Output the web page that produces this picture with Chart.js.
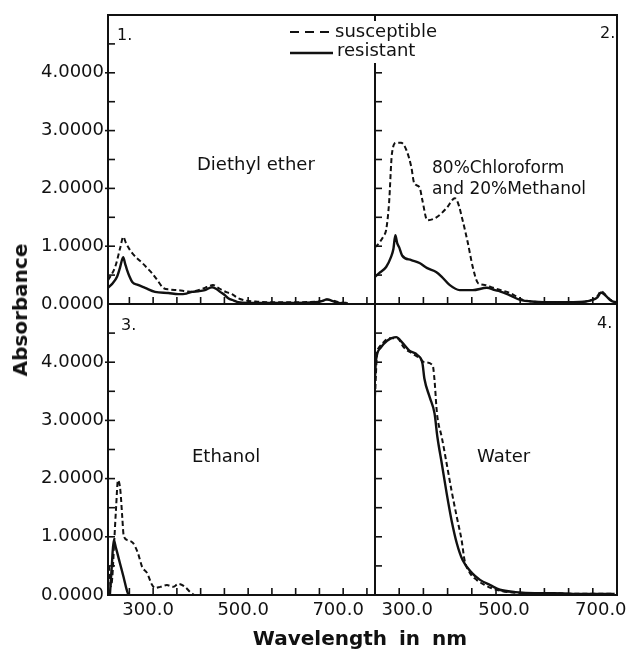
<!DOCTYPE html>
<html><head><meta charset="utf-8">
<script src="https://cdn.jsdelivr.net/npm/chart.js@4/dist/chart.umd.min.js"></script>
<style>
html,body{margin:0;padding:0;background:#fff}
body{width:632px;height:664px;position:relative;overflow:hidden;font-family:"DejaVu Sans",sans-serif;color:#111}
canvas{position:absolute;left:0;top:0}
.t{position:absolute;white-space:nowrap;line-height:1}
</style></head><body>
<canvas id="c1" width="632" height="664"></canvas>
<canvas id="c2" width="632" height="664"></canvas>
<canvas id="c3" width="632" height="664"></canvas>
<canvas id="c4" width="632" height="664"></canvas>

<div class="t" style="left:117px;top:27px;font-size:16px">1.</div>
<div class="t" style="left:600px;top:25px;font-size:16px">2.</div>
<div class="t" style="left:121px;top:317px;font-size:16px">3.</div>
<div class="t" style="left:597px;top:315px;font-size:16px">4.</div>
<div class="t" style="left:197px;top:155px;font-size:18px">Diethyl ether</div>
<div class="t" style="left:432px;top:159px;font-size:17px">80%Chloroform</div>
<div class="t" style="left:432px;top:180px;font-size:17px">and 20%Methanol</div>
<div class="t" style="left:192px;top:447px;font-size:18px">Ethanol</div>
<div class="t" style="left:477px;top:447px;font-size:18px">Water</div>

<div style="position:absolute;left:286px;top:21px;width:156px;height:42px;background:#fff"></div>
<svg style="position:absolute;left:286px;top:21px" width="52" height="42">
  <line x1="4" y1="11" x2="46" y2="11" stroke="#111" stroke-width="2" stroke-dasharray="9 6"/>
  <line x1="4" y1="32" x2="47" y2="32" stroke="#111" stroke-width="2.5"/>
</svg>
<div class="t" style="left:335px;top:22px;font-size:18px">susceptible</div>
<div class="t" style="left:337px;top:41px;font-size:18px">resistant</div>

<div class="t" style="left:20px;top:310px;font-size:20px;font-weight:bold;transform:translate(-50%,-50%) rotate(-90deg)">Absorbance</div>
<div class="t" style="left:360px;top:638px;font-size:20px;font-weight:bold;word-spacing:5px;transform:translate(-50%,-50%)">Wavelength in nm</div>

<script>
// ---------- data ----------
// Panel 1: Diethyl ether
const etherNmS  = [205,220,231,237,243,250,256,265,277,290,298,310,321,335,353,370,382,395,409,418,426,435,445,456,466,479,495,520,560,600,640,655,666,678,690,710];
const etherAbsS = [0.41,0.64,0.98,1.16,1.05,0.95,0.88,0.80,0.71,0.60,0.53,0.40,0.28,0.25,0.24,0.22,0.21,0.24,0.28,0.31,0.33,0.29,0.24,0.20,0.17,0.10,0.06,0.04,0.03,0.03,0.04,0.05,0.08,0.06,0.03,0.02];
const etherNmR  = [205,215,224,230,237,241,245,250,256,268,283,304,332,353,370,382,395,409,424,433,441,450,458,470,479,500,550,600,640,655,666,678,690,710];
const etherAbsR = [0.28,0.36,0.47,0.62,0.81,0.70,0.59,0.48,0.38,0.33,0.28,0.21,0.19,0.17,0.18,0.21,0.22,0.24,0.29,0.26,0.21,0.16,0.10,0.06,0.03,0.02,0.02,0.02,0.03,0.05,0.08,0.05,0.02,0.01];

// Panel 2: 80% Chloroform and 20% Methanol
const chloroNmS  = [250,258,268,273,279,285,294,304,315,325,331,342,348,358,377,398,415,421,431,442,452,463,477,494,510,529,556,580,620,660,700,710,717,727,737,750];
const chloroAbsS = [0.98,1.05,1.18,1.28,1.74,2.60,2.79,2.79,2.66,2.37,2.09,2.02,1.79,1.45,1.50,1.66,1.83,1.76,1.45,1.05,0.64,0.36,0.33,0.28,0.24,0.19,0.07,0.04,0.03,0.03,0.08,0.14,0.22,0.15,0.07,0.03];
const chloroNmR  = [250,258,273,283,288,292,296,300,306,325,342,358,377,388,404,425,452,481,498,508,529,550,580,620,660,700,710,717,727,737,750];
const chloroAbsR = [0.47,0.53,0.64,0.81,0.95,1.19,1.05,0.98,0.84,0.76,0.71,0.62,0.55,0.47,0.33,0.24,0.24,0.28,0.24,0.22,0.15,0.07,0.04,0.03,0.03,0.07,0.12,0.20,0.14,0.06,0.02];

// Panel 3: Ethanol
const ethanolNmS  = [207,211,214,218,222,226,231,235,238,247,258,268,277,287,298,304,315,329,342,353,367,378,386];
const ethanolAbsS = [0.50,0.15,0.30,0.90,1.50,1.97,1.80,1.34,1.02,0.94,0.89,0.72,0.48,0.38,0.17,0.12,0.14,0.17,0.14,0.19,0.14,0.05,0.00];
const ethanolNmR  = [209,213,217,222,230,238,244,248];
const ethanolAbsR = [0.00,0.50,0.94,0.80,0.55,0.30,0.10,0.00];

// Panel 4: Water
const waterNmS  = [250,252,254,258,265,279,296,310,327,342,352,369,373,377,379,388,398,408,419,429,435,446,460,475,490,510,540,580,620,660,700,745];
const waterAbsS = [3.40,3.80,4.15,4.25,4.32,4.41,4.41,4.25,4.15,4.07,4.00,3.95,3.69,3.22,3.05,2.71,2.26,1.80,1.34,0.94,0.60,0.38,0.26,0.18,0.12,0.07,0.04,0.03,0.03,0.02,0.02,0.02];
const waterNmR  = [250,252,262,275,294,306,321,338,348,352,363,373,379,388,398,408,419,431,450,467,488,508,540,580,620,660,700,745];
const waterAbsR = [3.74,4.03,4.25,4.37,4.43,4.34,4.20,4.12,3.98,3.72,3.40,3.12,2.71,2.26,1.75,1.29,0.89,0.60,0.38,0.26,0.17,0.09,0.05,0.03,0.03,0.02,0.02,0.02];

// tick labels and tick marks
const yTickLabels = [0,1,2,3,4];
const xTickLabels = [300,500,700];
const yTickMarks = [0.5,1,1.5,2,2.5,3,3.5,4,4.5];
const xTickMarks = [250,300,350,400,450,500,550,600,650,700,750];

// ---------- drawing ----------
Chart.defaults.font.family = '"DejaVu Sans", sans-serif';
Chart.defaults.color = '#111';

const pts = (nm, ab) => nm.map((x, i) => ({x: x, y: ab[i]}));

const framePlugin = {
  id: 'frame',
  afterDatasetsDraw(chart) {
    const {ctx, chartArea: a, scales} = chart;
    const x = scales.x, y = scales.y;
    ctx.save();
    ctx.strokeStyle = '#111';
    ctx.lineWidth = 1.6;
    xTickMarks.forEach(v => {
      if (v <= x.min || v >= x.max) return;
      const px = x.getPixelForValue(v);
      ctx.beginPath(); ctx.moveTo(px, a.bottom); ctx.lineTo(px, a.bottom - 7); ctx.stroke();
    });
    yTickMarks.forEach(v => {
      const py = y.getPixelForValue(v);
      const major = Number.isInteger(v);
      ctx.beginPath();
      ctx.moveTo(a.left - (major && chart.options.scales.y.display ? 3 : 0), py);
      ctx.lineTo(a.left + 7, py); ctx.stroke();
    });
    ctx.lineWidth = 2;
    ctx.strokeRect(a.left, a.top, a.right - a.left, a.bottom - a.top);
    ctx.restore();
  }
};

function makePanel(id, box, xr, showX, showY, sus, res, labelOff) {
  const W = 632, H = 664, XH = 30;
  new Chart(document.getElementById(id), {
    type: 'line',
    data: {
      datasets: [
        {label: 'susceptible', data: sus, borderColor: '#111', borderWidth: 2, borderDash: [5, 3],
         pointRadius: 0, fill: false, cubicInterpolationMode: 'monotone'},
        {label: 'resistant', data: res, borderColor: '#111', borderWidth: 2.4,
         pointRadius: 0, fill: false, cubicInterpolationMode: 'monotone'}
      ]
    },
    options: {
      responsive: false, animation: false, events: [],
      layout: {padding: {
        left: showY ? 0 : box.l,
        right: W - box.r,
        top: box.t,
        bottom: showX ? H - box.b - XH : H - box.b
      }},
      plugins: {legend: {display: false}, tooltip: {enabled: false}},
      scales: {
        x: {
          type: 'linear', min: xr[0], max: xr[1], display: showX,
          grid: {display: false, drawTicks: false}, border: {display: false},
          afterBuildTicks: s => { s.ticks = xTickLabels.map(v => ({value: v})); },
          afterFit: s => { s.height = showX ? XH : 0; },
          ticks: {padding: 5, labelOffset: labelOff, maxRotation: 0, autoSkip: false,
                  font: {size: 18}, color: '#111', callback: v => Number(v).toFixed(1)}
        },
        y: {
          type: 'linear', min: 0, max: 5, display: showY,
          grid: {display: false, drawTicks: false}, border: {display: false},
          afterBuildTicks: s => { s.ticks = yTickLabels.map(v => ({value: v})); },
          afterFit: s => { s.width = showY ? box.l : 0; },
          ticks: {padding: 4, autoSkip: false, font: {size: 18}, color: '#111',
                  callback: v => Number(v).toFixed(4)}
        }
      }
    },
    plugins: [framePlugin]
  });
}

makePanel('c1', {l:108, t:15,  r:375, b:304}, [205, 767], false, true,
  pts(etherNmS, etherAbsS), pts(etherNmR, etherAbsR), 0);
makePanel('c2', {l:375, t:15,  r:617, b:304}, [250, 750], false, false,
  pts(chloroNmS, chloroAbsS), pts(chloroNmR, chloroAbsR), 0);
makePanel('c3', {l:108, t:304, r:375, b:595}, [205, 767], true, true,
  pts(ethanolNmS, ethanolAbsS), pts(ethanolNmR, ethanolAbsR), -5);
makePanel('c4', {l:375, t:304, r:617, b:595}, [250, 750], true, false,
  pts(waterNmS, waterAbsS), pts(waterNmR, waterAbsR), 8);
</script>
</body></html>
